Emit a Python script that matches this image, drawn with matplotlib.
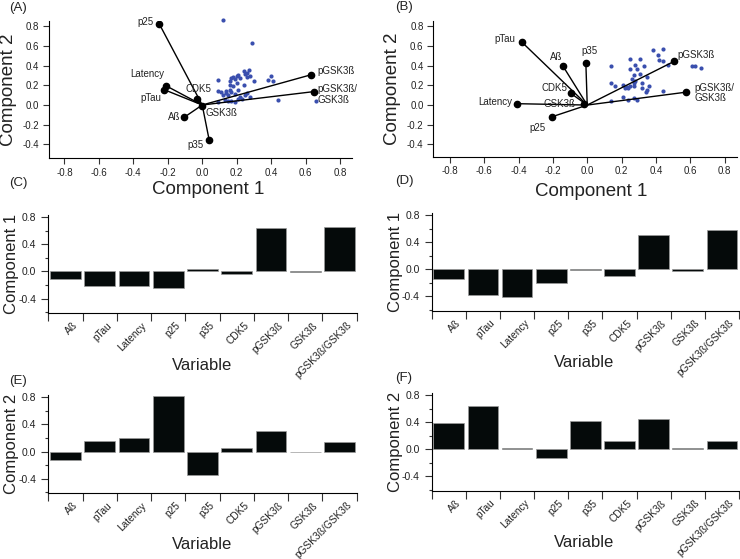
import matplotlib
matplotlib.use('Agg')
import matplotlib.pyplot as plt
import matplotlib.transforms as mtransforms
from matplotlib.ticker import MultipleLocator

plt.rcParams['font.family'] = ['Liberation Sans', 'DejaVu Sans']

# Loadings (same values feed the biplots and the bar charts)
variables = ['Aß', 'pTau', 'Latency', 'p25', 'p35', 'CDK5', 'pGSK3ß', 'GSK3ß', 'pGSK3ß/GSK3ß']
pc1_a = [-0.105, -0.22, -0.21, -0.25, 0.04, -0.032, 0.632, -0.004, 0.648]
pc2_a = [-0.125, 0.155, 0.195, 0.825, -0.352, 0.057, 0.307, -0.008, 0.136]
pc1_b = [-0.14, -0.38, -0.41, -0.207, -0.008, -0.095, 0.505, -0.02, 0.576]
pc2_b = [0.392, 0.638, 0.014, -0.12, 0.425, 0.118, 0.443, 0.015, 0.131]

# Scores (blue points)
score_a_x = [0.12, 0.29, 0.09, 0.16, 0.17, 0.18, 0.20, 0.21, 0.19, 0.16, 0.18, 0.24,
             0.26, 0.27, 0.28, 0.25, 0.26, 0.30, 0.22, 0.38, 0.40, 0.41, 0.09, 0.11,
             0.14, 0.15, 0.17, 0.19, 0.21, 0.22, 0.23, 0.25, 0.26, 0.28, 0.14, 0.16,
             0.09, 0.13, 0.15, 0.17, 0.19, 0.21, 0.44, 0.66, 0.24, 0.20, 0.12]
score_a_y = [0.86, 0.63, 0.25, 0.24, 0.27, 0.28, 0.29, 0.30, 0.26, 0.20, 0.19, 0.35,
             0.33, 0.36, 0.29, 0.31, 0.28, 0.24, 0.27, 0.25, 0.29, 0.24, 0.14, 0.13,
             0.12, 0.10, 0.13, 0.11, 0.15, 0.08, 0.06, 0.10, 0.12, 0.08, 0.14, 0.15,
             0.03, 0.05, 0.04, 0.04, 0.03, 0.06, 0.05, 0.04, 0.20, 0.22, 0.10]
score_b_x = [0.14, 0.25, 0.28, 0.31, 0.25, 0.29, 0.33, 0.27, 0.31, 0.38, 0.44, 0.41,
             0.42, 0.44, 0.47, 0.61, 0.63, 0.66, 0.35, 0.14, 0.16, 0.21, 0.23, 0.24,
             0.25, 0.26, 0.27, 0.27, 0.32, 0.32, 0.35, 0.36, 0.34, 0.44, 0.14, 0.21,
             0.24, 0.27, 0.29, 0.22, 0.28]
score_b_y = [0.40, 0.47, 0.41, 0.47, 0.37, 0.37, 0.40, 0.31, 0.32, 0.56, 0.57, 0.51,
             0.46, 0.45, 0.41, 0.40, 0.40, 0.38, 0.28, 0.22, 0.19, 0.20, 0.18, 0.17,
             0.19, 0.26, 0.22, 0.19, 0.22, 0.17, 0.15, 0.19, 0.13, 0.14, 0.04, 0.08,
             0.05, 0.07, 0.05, 0.17, 0.24]

# label placement for biplots: (dx px, dy px, ha)
lab_a = {'Aß': (-4, 0, 'right'), 'pTau': (-3, -8, 'right'), 'Latency': (-2, 12, 'right'),
         'p25': (-6, 2, 'right'), 'p35': (-6, -5, 'right'), 'CDK5': (2, 10, 'center'),
         'pGSK3ß': (6, 4, 'left'), 'GSK3ß': (4, -7, 'left'), 'pGSK3ß/GSK3ß': (4, -3, 'left')}
lab_b = {'Aß': (-1, 9, 'right'), 'pTau': (-7, 3, 'right'), 'Latency': (-5, 2, 'right'),
         'p25': (-6, -11, 'right'), 'p35': (4, 12, 'center'), 'CDK5': (-4, 5, 'right'),
         'pGSK3ß': (3, 6, 'left'), 'GSK3ß': (-8, 0, 'right'), 'pGSK3ß/GSK3ß': (8, -1, 'left')}

W, H = 740, 559
fig = plt.figure(figsize=(7.4, 5.59), dpi=100)

def box(l, t, r, b):
    return [l / W, 1 - b / H, (r - l) / W, (b - t) / H]

TXT = '#222222'
TICK = '#333333'
DOT = '#3a4fae'

def biplot(ax, px, py, sx, sy, labs, xlim, ylim):
    ax.scatter(sx, sy, s=9, color=DOT, linewidths=0, zorder=2, clip_on=False)
    for name, x, y in zip(variables, px, py):
        ax.plot([0, x], [0, y], color='k', lw=1.0, zorder=3)
        ax.plot(x, y, 'o', color='k', ms=4.5, zorder=4)
        dx, dy, ha = labs[name]
        txt = name.replace('/', '/\n')
        ax.annotate(txt, (x, y), xytext=(dx * 0.72, dy * 0.72), textcoords='offset points',
                    ha=ha, va='center', fontsize=7, color=TXT,
                    linespacing=1.05, zorder=5)
    ax.set_xlim(*xlim)
    ax.set_ylim(*ylim)
    ax.set_xticks([-0.8, -0.6, -0.4, -0.2, 0.0, 0.2, 0.4, 0.6, 0.8])
    ax.set_yticks([-0.4, -0.2, 0.0, 0.2, 0.4, 0.6, 0.8])
    ax.xaxis.set_major_formatter(plt.FuncFormatter(lambda v, p: '%.1f' % v))
    ax.yaxis.set_major_formatter(plt.FuncFormatter(lambda v, p: '%.1f' % v))
    for s in ['top', 'right']:
        ax.spines[s].set_visible(False)
    ax.tick_params(labelsize=7, colors=TICK, labelcolor=TXT, length=4, width=0.8, pad=3)
    ax.set_xlabel('Component 1', fontsize=13.5, color=TXT)
    ax.set_ylabel('Component 2', fontsize=13.5, color=TXT)

def barplot(ax, vals, ylab):
    xs = list(range(len(variables)))
    ax.bar(xs, vals, width=0.9, color='#050a0a', edgecolor='#9a9a9a', linewidth=0.5)
    ax.set_xlim(-0.5, len(variables) - 0.5)
    ax.set_ylim(-0.615, 0.83)
    ax.set_xticks([i - 0.5 for i in range(len(variables) + 1)])
    ax.set_xticklabels([])
    ax.set_xticks(xs, minor=True)
    ax.set_xticklabels(variables, minor=True, rotation=45, ha='right', rotation_mode='anchor',
                       fontsize=7.3, color=TXT)
    ax.tick_params(axis='x', which='major', length=6, width=0.8, colors=TICK)
    ax.tick_params(axis='x', which='minor', length=0, pad=5)
    off = mtransforms.ScaledTranslation(5 / 72, 0, fig.dpi_scale_trans)
    for lab in ax.get_xticklabels(minor=True):
        lab.set_transform(lab.get_transform() + off)
    ax.yaxis.set_major_locator(MultipleLocator(0.4))
    ax.yaxis.set_minor_locator(MultipleLocator(0.2))
    ax.yaxis.set_major_formatter(plt.FuncFormatter(lambda v, p: '%.1f' % v))
    ax.tick_params(axis='y', which='major', length=5, width=0.8, labelsize=7.5, colors=TICK, labelcolor=TXT)
    ax.tick_params(axis='y', which='minor', length=2.5, width=0.8, colors=TICK)
    for s in ['top', 'right']:
        ax.spines[s].set_visible(False)
    ax.set_ylabel(ylab, fontsize=12, color=TXT)
    ax.set_xlabel('Variable', fontsize=12, color=TXT)

axA = fig.add_axes(box(49, 20.7, 352, 158))
biplot(axA, pc1_a, pc2_a, score_a_x, score_a_y, lab_a, (-0.89, 0.87), (-0.538, 0.856))
axA.yaxis.set_label_coords(-0.105, 0.5)
axA.xaxis.set_label_coords(0.527, -0.17)

axB = fig.add_axes(box(433.3, 20.7, 736.7, 156.7))
biplot(axB, pc1_b, pc2_b, score_b_x, score_b_y, lab_b, (-0.896, 0.87), (-0.524, 0.856))
axB.yaxis.set_label_coords(-0.105, 0.5)
axB.xaxis.set_label_coords(0.519, -0.19)

axC = fig.add_axes(box(48.3, 215, 356.7, 313.3))
barplot(axC, pc1_a, 'Component 1')
axD = fig.add_axes(box(431.7, 213.3, 739, 311))
barplot(axD, pc1_b, 'Component 1')
axE = fig.add_axes(box(48.3, 395.3, 356.7, 493.3))
barplot(axE, pc2_a, 'Component 2')
axF = fig.add_axes(box(431.7, 393.3, 739, 491))
barplot(axF, pc2_b, 'Component 2')
for ax in (axC, axD, axE, axF):
    ax.yaxis.set_label_coords(-0.095, 0.5)
    ax.xaxis.set_label_coords(0.497, -0.45)

for lab, x, y in [('(A)', 18, 8), ('(B)', 404, 7), ('(C)', 18, 183), ('(D)', 404, 181),
                  ('(E)', 18, 381), ('(F)', 404, 378)]:
    fig.text(x / W, 1 - y / H, lab, fontsize=9.5, color=TXT, ha='center', va='center')

fig.savefig('out.png', dpi=100)
